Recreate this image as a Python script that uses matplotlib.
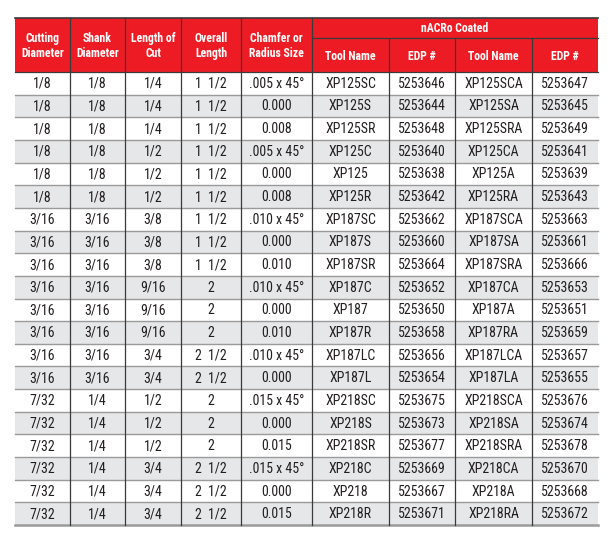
import matplotlib.pyplot as plt
from matplotlib.patches import Rectangle
from matplotlib import font_manager

# table data
cutting_dia = ["1/8"] * 6 + ["3/16"] * 8 + ["7/32"] * 6
shank_dia = ["1/8"] * 6 + ["3/16"] * 8 + ["1/4"] * 6
length_cut = ["1/4", "1/4", "1/4", "1/2", "1/2", "1/2",
              "3/8", "3/8", "3/8", "9/16", "9/16", "9/16", "3/4", "3/4",
              "1/2", "1/2", "1/2", "3/4", "3/4", "3/4"]
overall_len = ["1  1/2"] * 9 + ["2", "2", "2", "2  1/2", "2  1/2",
                                "2", "2", "2", "2  1/2", "2  1/2", "2  1/2"]
chamfer = [".005 x 45°", "0.000", "0.008", ".005 x 45°", "0.000", "0.008",
           ".010 x 45°", "0.000", "0.010", ".010 x 45°", "0.000", "0.010",
           ".010 x 45°", "0.000",
           ".015 x 45°", "0.000", "0.015", ".015 x 45°", "0.000", "0.015"]
tool_name = ["XP125SC", "XP125S", "XP125SR", "XP125C", "XP125", "XP125R",
             "XP187SC", "XP187S", "XP187SR", "XP187C", "XP187", "XP187R",
             "XP187LC", "XP187L",
             "XP218SC", "XP218S", "XP218SR", "XP218C", "XP218", "XP218R"]
edp = ["5253646", "5253644", "5253648", "5253640", "5253638", "5253642",
       "5253662", "5253660", "5253664", "5253652", "5253650", "5253658",
       "5253656", "5253654",
       "5253675", "5253673", "5253677", "5253669", "5253667", "5253671"]
tool_name_a = ["XP125SCA", "XP125SA", "XP125SRA", "XP125CA", "XP125A", "XP125RA",
               "XP187SCA", "XP187SA", "XP187SRA", "XP187CA", "XP187A", "XP187RA",
               "XP187LCA", "XP187LA",
               "XP218SCA", "XP218SA", "XP218SRA", "XP218CA", "XP218A", "XP218RA"]
edp_a = ["5253647", "5253645", "5253649", "5253641", "5253639", "5253643",
         "5253663", "5253661", "5253666", "5253653", "5253651", "5253659",
         "5253657", "5253655",
         "5253676", "5253674", "5253678", "5253670", "5253668", "5253672"]

headers = ["Cutting\nDiameter", "Shank\nDiameter", "Length of\nCut",
           "Overall\nLength", "Chamfer or\nRadius Size"]
sub_headers = ["Tool Name", "EDP #", "Tool Name", "EDP #"]
group_title = "nACRo Coated"

columns = [cutting_dia, shank_dia, length_cut, overall_len, chamfer,
           tool_name, edp, tool_name_a, edp_a]

# layout in pixels
col_edges = [15, 70, 125, 181, 241, 312, 389, 455, 532, 598]
top = 18
group_bottom = 38
header_bottom = 72
row_h = 22.65

RED = "#ED1C24"
GRAY = "#E6E7E8"
LINE = "#3a3a3a"
HLINE = "#9a9a9a"

# pick a narrow sans close to Helvetica Condensed
names = {f.name for f in font_manager.fontManager.ttflist}
font = "DejaVu Sans"
for cand in ["Roboto Condensed", "Archivo Narrow", "Liberation Sans Narrow",
             "PT Sans Narrow", "Sofia Sans Condensed", "Saira SemiCondensed"]:
    if cand in names:
        font = cand
        break
plt.rcParams["font.family"] = [font, "DejaVu Sans"]

fig = plt.figure(figsize=(6.15, 5.34), dpi=100)
ax = fig.add_axes([0, 0, 1, 1])
ax.set_xlim(0, 615)
ax.set_ylim(534, 0)
ax.axis("off")

# header background
ax.add_patch(Rectangle((col_edges[0], top), col_edges[-1] - col_edges[0],
                       header_bottom - top, facecolor=RED, edgecolor="none"))

for i, h in enumerate(headers):
    cx = (col_edges[i] + col_edges[i + 1]) / 2
    ax.text(cx, (top + header_bottom) / 2 + 1, h, ha="center", va="center",
            color="white", fontsize=8.5, fontweight="bold", linespacing=1.15)
ax.text((col_edges[5] + col_edges[-1]) / 2, (top + group_bottom) / 2 + 1,
        group_title, ha="center", va="center", color="white",
        fontsize=8.5, fontweight="bold")
for j, h in enumerate(sub_headers):
    cx = (col_edges[5 + j] + col_edges[6 + j]) / 2
    ax.text(cx, (group_bottom + header_bottom) / 2 + 1, h, ha="center",
            va="center", color="white", fontsize=8.5, fontweight="bold")

# body rows
n_rows = len(cutting_dia)
for r in range(n_rows):
    y0 = header_bottom + r * row_h
    if r % 2 == 1:
        ax.add_patch(Rectangle((col_edges[0], y0), col_edges[-1] - col_edges[0],
                               row_h, facecolor=GRAY, edgecolor="none"))
    for c, col in enumerate(columns):
        cx = (col_edges[c] + col_edges[c + 1]) / 2
        ax.text(cx, y0 + row_h / 2 + 0.5, col[r], ha="center", va="center",
                color="#231F20", fontsize=10)

bottom = header_bottom + n_rows * row_h

# horizontal lines
ax.plot([col_edges[0], col_edges[-1]], [top, top], color=LINE, lw=1.2)
ax.plot([col_edges[5], col_edges[-1]], [group_bottom, group_bottom], color=LINE, lw=0.9)
ax.plot([col_edges[0], col_edges[-1]], [header_bottom, header_bottom], color=LINE, lw=0.9)
for r in range(1, n_rows):
    y = header_bottom + r * row_h
    ax.plot([col_edges[0], col_edges[-1]], [y, y], color=HLINE, lw=1.0)
ax.plot([col_edges[0], col_edges[-1]], [bottom, bottom], color=HLINE, lw=1.8)

# vertical lines
for i, x in enumerate(col_edges[1:-1], start=1):
    y_start = group_bottom if i in (6, 7, 8) else top
    ax.plot([x, x], [y_start, bottom], color=LINE, lw=0.9)

fig.savefig("out.png", dpi=100)
